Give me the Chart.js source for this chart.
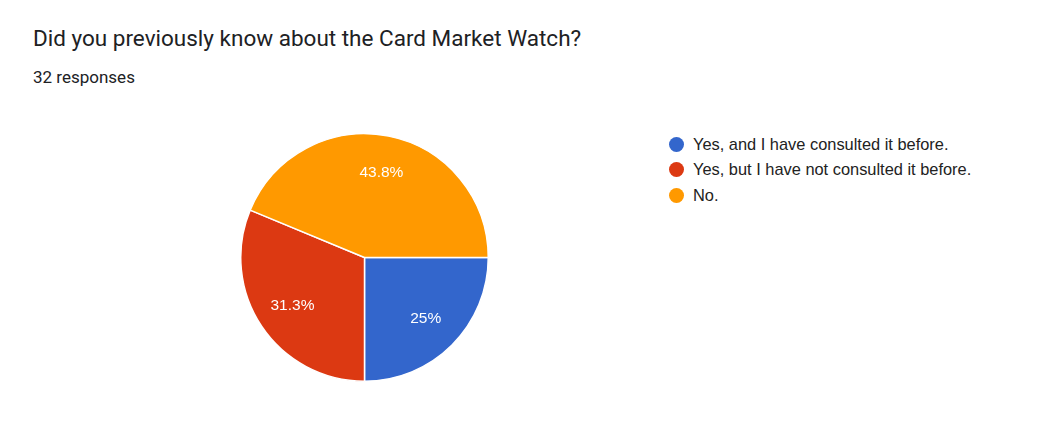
<!DOCTYPE html>
<html>
<head>
<meta charset="utf-8">
<script src="https://cdn.jsdelivr.net/npm/chart.js@4"></script>
<style>
  html, body { margin: 0; padding: 0; background: #fff; }
  body { width: 1051px; height: 422px; position: relative; overflow: hidden; }
  #title { position: absolute; left: 33px; top: 25px; font-family: Roboto, sans-serif; font-size: 22.5px; color: #202124; white-space: nowrap; line-height: normal; }
  #subtitle { position: absolute; left: 33px; top: 67px; font-family: Roboto, sans-serif; font-size: 17px; color: #202124; white-space: nowrap; line-height: normal; }
  #chartBox { position: absolute; left: 240px; top: 133px; width: 249px; height: 249px; }
  #legend { position: absolute; left: 669px; top: 131.5px; font-family: "Liberation Sans", Arial, sans-serif; font-size: 16.4px; color: #222; }
  .item { display: flex; align-items: center; height: 25.5px; white-space: nowrap; }
  .dot { width: 15px; height: 15px; border-radius: 50%; margin-right: 9px; flex: none; }
</style>
</head>
<body>
<div id="title"></div>
<div id="subtitle"></div>
<div id="chartBox"><canvas id="c"></canvas></div>
<div id="legend"></div>
<script>
const titleText = "Did you previously know about the Card Market Watch?";
const subtitleText = "32 responses";
const categories = ["Yes, and I have consulted it before.", "Yes, but I have not consulted it before.", "No."];
const counts = [8, 10, 14];
const percentLabels = ["25%", "31.3%", "43.8%"];
const colors = ["#3366cc", "#dc3912", "#ff9900"];

document.getElementById('title').textContent = titleText;
document.getElementById('subtitle').textContent = subtitleText;
const legend = document.getElementById('legend');
categories.forEach((c, i) => {
  const row = document.createElement('div');
  row.className = 'item';
  const d = document.createElement('span');
  d.className = 'dot';
  d.style.background = colors[i];
  const t = document.createElement('span');
  t.textContent = c;
  row.appendChild(d); row.appendChild(t);
  legend.appendChild(row);
});

const labelPlugin = {
  id: 'sliceLabels',
  afterDatasetsDraw(chart) {
    const ctx = chart.ctx;
    const meta = chart.getDatasetMeta(0);
    ctx.save();
    ctx.fillStyle = '#ffffff';
    ctx.font = '15.5px "Liberation Sans", Arial, sans-serif';
    ctx.textAlign = 'center';
    ctx.textBaseline = 'middle';
    meta.data.forEach((arc, i) => {
      const p = arc.getProps(['x', 'y', 'startAngle', 'endAngle', 'outerRadius'], true);
      const mid = (p.startAngle + p.endAngle) / 2;
      const r = p.outerRadius * 0.7;
      ctx.fillText(percentLabels[i], p.x + Math.cos(mid) * r, p.y + Math.sin(mid) * r);
    });
    ctx.restore();
  }
};

new Chart(document.getElementById('c'), {
  type: 'pie',
  data: {
    labels: categories,
    datasets: [{
      data: counts,
      backgroundColor: colors,
      borderColor: '#ffffff',
      borderWidth: 1.5
    }]
  },
  options: {
    responsive: true,
    maintainAspectRatio: false,
    animation: false,
    rotation: 90,
    layout: { padding: 0 },
    plugins: {
      legend: { display: false },
      tooltip: { enabled: false }
    }
  },
  plugins: [labelPlugin]
});
</script>
</body>
</html>
